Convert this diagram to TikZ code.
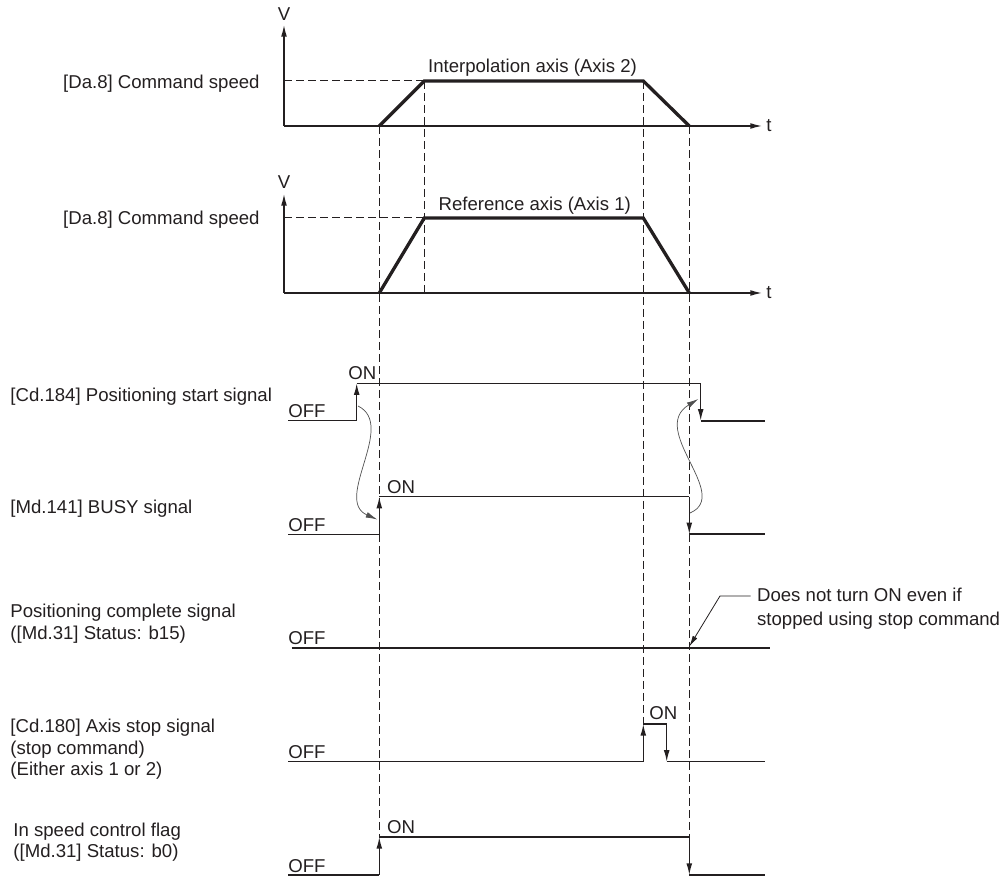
\documentclass[tikz,border=0pt]{standalone}
\usepackage{fontspec}
\setmainfont{Liberation Sans}
\usetikzlibrary{arrows.meta}
\definecolor{ink}{HTML}{231F20}
\definecolor{wire}{HTML}{505050}

\begin{document}
\begin{tikzpicture}[x=0.5pt,y=-0.5pt,
  lbl/.style={font=\fontsize{9.3}{11}\selectfont,text=ink,inner sep=0pt},
  axisline/.style={ink,line width=0.65pt},
  prof/.style={ink,line width=1.65pt},
  sig/.style={ink,line width=0.65pt},
  sigthick/.style={ink,line width=1.15pt},
  guide/.style={ink,line width=0.5pt,dash pattern=on 3.8pt off 2.2pt},
  tip/.style={-{Latex[length=5.8pt,width=2.9pt]}},
  swing/.style={wire,line width=0.35pt,-{Latex[length=5.8pt,width=2.9pt]}},
  callout/.style={ink,line width=0.4pt,-{Latex[length=5.5pt,width=2.6pt]}}]
  \useasboundingbox (0,0) rectangle (1002,876);
  % guide lines
  \draw[guide] (379.3,126) -- (379.3,837);
  \draw[guide] (424.3,81) -- (424.3,293);
  \draw[guide] (643.3,81) -- (643.3,724);
  \draw[guide] (689.3,126) -- (689.3,837);
  \draw[guide] (284,81) -- (424.3,81);
  \draw[guide] (284,218) -- (424.3,218);
  % speed, axis 2
  \draw[axisline,tip] (284,126) -- (284,25);
  \draw[axisline,tip] (284,126) -- (762,126);
  \node[lbl] (v2) at (284,14) {V};
  \node[lbl,anchor=west] (t2) at (766,126) {t};
  \draw[prof] (379.3,126) -- (424.3,81) -- (643.3,81) -- (689.3,126);
  \node[lbl] (ax2) at (532.5,68) {Interpolation axis (Axis 2)};
  \node[lbl,anchor=base east] (spd2) at (260,89) {[Da.8] Command speed};
  % speed, axis 1
  \draw[axisline,tip] (284,293) -- (284,194);
  \draw[axisline,tip] (284,293) -- (762,293);
  \node[lbl] (v1) at (284,182) {V};
  \node[lbl,anchor=west] (t1) at (766,293) {t};
  \draw[prof] (379.3,293) -- (424.3,218) -- (643.3,218) -- (689.3,293);
  \node[lbl] (ax1) at (534.7,206) {Reference axis (Axis 1)};
  \node[lbl,anchor=base east] (spd1) at (260,225) {[Da.8] Command speed};
  % positioning start signal
  \node[lbl,anchor=base west] (startlbl) at (10,401.5) {[Cd.184] Positioning start signal};
  \draw[sig] (288,420.7) -- (356.7,420.7);
  \draw[sig,tip] (356.7,420.7) -- (356.7,383.3);
  \draw[sig] (356.7,383.3) -- (700.7,383.3);
  \draw[sig,tip] (700.7,383.3) -- (700.7,420.7);
  \draw[sigthick] (700.7,420.7) -- (765,420.7);
  \node[lbl,anchor=base west] (startoff) at (288,418) {OFF};
  \node[lbl,anchor=base west] (starton) at (348,380) {ON};
  % BUSY signal
  \node[lbl,anchor=base west] (busylbl) at (10,514) {[Md.141] BUSY signal};
  \draw[sig] (288,534.3) -- (379.3,534.3);
  \draw[sig,tip] (379.3,534.3) -- (379.3,496.7);
  \draw[sig] (379.3,496.7) -- (689.3,496.7);
  \draw[sig,tip] (689.3,496.7) -- (689.3,534.3);
  \draw[sigthick] (689.3,534.3) -- (765,534.3);
  \node[lbl,anchor=base west] (busyoff) at (288,531.5) {OFF};
  \node[lbl,anchor=base west] (busyon) at (386.7,493.5) {ON};
  % start -> BUSY links
  \coordinate (stup) at (358,406);
  \coordinate (busyup) at (377.3,519.5);
  \coordinate (busydn) at (690,513);
  \coordinate (stdn) at (698.3,399);
  \draw[swing] (stup) .. controls (397,425) and (333,500) .. (busyup);
  \draw[swing] (busydn) .. controls (732,495) and (648,430) .. (stdn);
  % positioning complete
  \node[lbl,anchor=base west,align=left] (pclbl) at (10,640) {Positioning complete signal\\([Md.31] Status: b15)};
  \draw[sigthick] (291.7,647.7) -- (770,647.7);
  \node[lbl,anchor=base west] (pcoff) at (288,645) {OFF};
  \coordinate (pcstop) at (689.3,646.5);
  \coordinate (knee) at (720,596);
  \node[lbl,anchor=west,align=left,font=\fontsize{9.3}{12}\selectfont] (note) at (756.7,608.5) {Does not turn ON even if\\stopped using stop command};
  \draw[callout] ([xshift=-3pt]note.west |- knee) -- (knee) -- (pcstop);
  % axis stop signal
  \node[lbl,anchor=base west,align=left,font=\fontsize{9.3}{10.75}\selectfont] (stoplbl) at (10,776) {[Cd.180] Axis stop signal\\(stop command)\\(Either axis 1 or 2)};
  \draw[sig] (288,761.7) -- (643.3,761.7);
  \draw[sig,tip] (643.3,761.7) -- (643.3,724);
  \draw[sig] (643.3,724) -- (666.7,724);
  \draw[sig,tip] (666.7,724) -- (666.7,761.7);
  \draw[sig] (666.7,761.7) -- (765,761.7);
  \node[lbl,anchor=base west] (stopoff) at (288,759) {OFF};
  \node[lbl,anchor=base west] (stopon) at (649,720) {ON};
  % in speed control flag
  \node[lbl,anchor=base west,align=left,font=\fontsize{9.3}{10.5}\selectfont] (flaglbl) at (13,857) {In speed control flag\\([Md.31] Status: b0)};
  \draw[sig] (288,875) -- (379.3,875);
  \draw[sig,tip] (379.3,875) -- (379.3,837);
  \draw[sig] (379.3,837) -- (689.3,837);
  \draw[sig,tip] (689.3,837) -- (689.3,875);
  \draw[sigthick] (689.3,875) -- (765,875);
  \node[lbl,anchor=base west] (flagoff) at (288,872.5) {OFF};
  \node[lbl,anchor=base west] (flagon) at (386.7,834) {ON};
\end{tikzpicture}
\end{document}
